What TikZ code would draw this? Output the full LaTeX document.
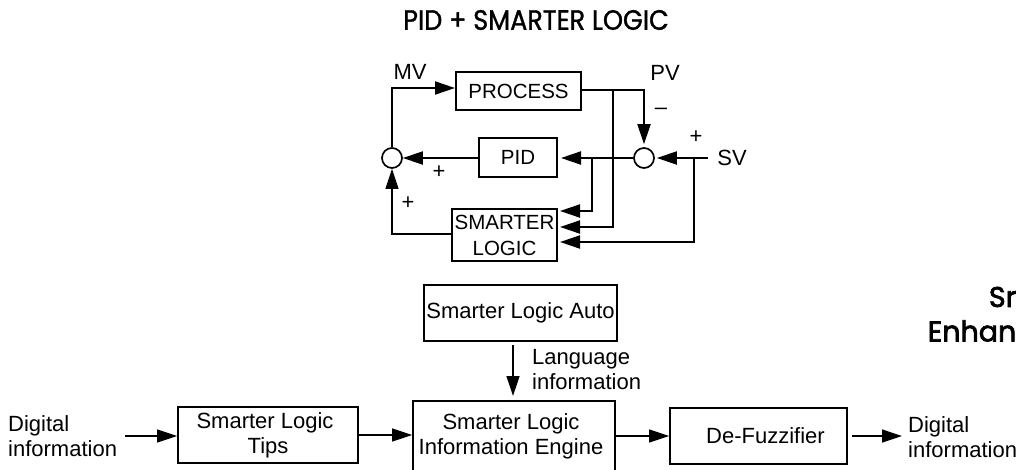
\documentclass[tikz,border=0pt]{standalone}
\usepackage{fontspec}
\setmainfont{Liberation Sans}
\newfontfamily\geo[FakeBold=1.2]{Poppins}
\newfontfamily\geob[FakeBold=2.5]{Poppins}
\usetikzlibrary{arrows.meta}
\tikzset{
  x=1pt,y=-1pt,
  box/.style={draw,line width=1.7pt,inner sep=0pt,align=center,font=\fontsize{22}{25}\selectfont},
  sbox/.style={box,line width=2pt,font=\fontsize{20.5}{26}\selectfont},
  sum/.style={draw,circle,line width=1.7pt,minimum size=20pt,inner sep=0pt},
  lab/.style={inner sep=0pt,align=left,font=\fontsize{22}{25}\selectfont},
  tip/.style={-{Triangle[length=20pt,width=13pt]}},
  conn/.style={line width=2pt,tip},
  low conn/.style={line width=1.3pt,tip},
  geotext/.style={inner sep=0pt,anchor=east,font=\geob\fontsize{28.5}{30}\selectfont},
}
\newcommand{\boxat}[6]{\node[#1,minimum width=#4pt-#3pt,minimum height=#6pt-#5pt] (#2) at ({(#3+#4)/2},{(#5+#6)/2})}
\begin{document}
\begin{tikzpicture}
\useasboundingbox[clip] (0,0) rectangle (1017,469);
\node[inner sep=0pt,font=\geo\fontsize{28}{30}\selectfont] (title) at (536,20) {\scalebox{0.91}[1]{PID + SMARTER LOGIC}};
% top loop
\boxat{sbox}{proc}{456}{581}{72}{110} {PROCESS};
\boxat{sbox}{pid}{479}{557}{138}{177} {PID};
\boxat{sbox}{logic}{452}{557}{209}{261} {SMARTER\\LOGIC};
\node[sum] (sl) at (392,158) {};
\node[sum] (sr) at (644,158) {};
\node[lab] (mv) at (410,72) {MV};
\node[lab] (pv) at (665,73) {PV};
\node[lab] (sv) at (732,158) {SV};
\node[lab] (minus) at (661,111) {–};
\node[lab] (plus1) at (439,172) {+};
\node[lab] (plus2) at (408,203) {+};
\node[lab] (plus3) at (696,137) {+};
\coordinate (svstart) at (708,158);
\coordinate (b1) at (592,158);
\coordinate (b2) at (613,90);
\coordinate (b3) at (694,158);
\coordinate (y1) at (0,211);
\coordinate (y2) at (0,227);
\coordinate (y3) at (0,242);
\coordinate (y4) at (0,234);
\coordinate (y5) at (0,88);
\coordinate (y6) at (0,90);
\draw[conn] (sl.north) |- (proc.west |- y5);
\draw[conn] (pid.west |- sl) -- (sl);
\draw[conn,shorten >=3pt] (sr) -- (pid.east |- sr);
\draw[conn,shorten >=2pt] (b1) |- (logic.east |- y1);
\draw[conn,shorten >=3pt] (proc.east |- y6) -| (sr.north);
\draw[conn,shorten >=2pt] (b2) |- (logic.east |- y2);
\draw[conn,shorten >=2pt] (svstart) -- (sr);
\draw[conn,shorten >=2pt] (b3) |- (logic.east |- y3);
\draw[low conn] (logic.west |- y4) -| (sl.south);
% bottom chain
\boxat{box}{auto}{424}{617}{285}{341} {Smarter Logic Auto};
\boxat{box}{eng}{413}{615}{401}{471} {Smarter Logic\hspace*{6pt}\\Information Engine\hspace*{6pt}};
\boxat{box}{tips}{178}{358}{407}{463} {Smarter Logic\hspace*{6pt}\\Tips};
\boxat{box}{defz}{670}{847}{408}{464} {\hspace*{14pt}De-Fuzzifier};
\node[lab,anchor=west] (din) at (8,436) {Digital\\information};
\node[lab,anchor=west] (dout) at (908,437) {Digital\\information};
\node[lab,anchor=west] (lang) at (532,370) {Language\\information};
\coordinate (dinend) at (125,436);
\coordinate (doutstart) at (852,436);
\coordinate (doutend) at (902,436);
\coordinate (autoout) at (513,345);
\coordinate (engin) at (513,396);
\draw[low conn] (dinend) -- (tips.west |- dinend);
\draw[low conn] (tips.east) -- (eng.west |- tips.east);
\draw[low conn] (eng.east |- defz) -- (defz.west);
\draw[low conn] (doutstart) -- (doutend);
\draw[low conn] (autoout) -- (engin);
\node[geotext] (sr2) at (1016.5,297) {Sr};
\node[geotext] (en) at (1016.5,331) {Enhan};
\end{tikzpicture}
\end{document}
